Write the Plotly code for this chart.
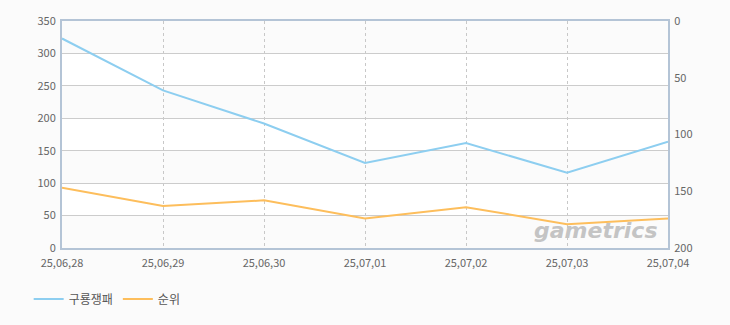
import plotly.graph_objects as go

dates = ["25,06,28", "25,06,29", "25,06,30", "25,07,01", "25,07,02", "25,07,03", "25,07,04"]
game_values = [323, 243, 192, 131, 162, 116, 164]
rank_values = [147, 163, 158, 174, 164, 179, 174]

blue = "rgb(141,206,240)"
orange = "rgb(253,190,92)"
font = "Noto Sans CJK KR, DejaVu Sans, sans-serif"

fig = go.Figure()
fig.add_trace(go.Scatter(x=dates, y=game_values, name="구룡쟁패", mode="lines",
                         line=dict(color=blue, width=2), yaxis="y"))
fig.add_trace(go.Scatter(x=dates, y=rank_values, name="순위", mode="lines",
                         line=dict(color=orange, width=2), yaxis="y2"))

shapes = []
for lo in range(0, 350, 100):
    shapes.append(dict(type="rect", xref="paper", yref="y", x0=0, x1=1, y0=lo, y1=lo + 50,
                       fillcolor="#fbfbfb", line=dict(width=0), layer="below"))

fig.update_layout(
    width=730, height=325,
    margin=dict(l=62, r=62, t=16, b=77),
    paper_bgcolor="#fbfbfb", plot_bgcolor="#ffffff",
    font=dict(family=font, size=11, color="#666666"),
    showlegend=True,
    legend=dict(orientation="h", x=-0.055, y=-0.225, xanchor="left", yanchor="middle",
                font=dict(size=12, color="#555555"), bgcolor="rgba(0,0,0,0)"),
    shapes=shapes,
    xaxis=dict(type="category", range=[0, 6], showgrid=True, griddash="3px,3px",
               gridcolor="#c8c8c8", gridwidth=1, showline=True, linecolor="#b4c4d6",
               linewidth=2, mirror=True, ticks="", zeroline=False, ticklabelstandoff=4,
               tickfont=dict(size=11, color="#666666")),
    yaxis=dict(range=[0, 350], dtick=50, showgrid=True, gridcolor="#cccccc",
               showline=True, linecolor="#b4c4d6", linewidth=2, mirror=True,
               ticks="", zeroline=False, ticklabelstandoff=2,
               tickfont=dict(size=11, color="#666666")),
    yaxis2=dict(range=[200, 0], dtick=50, overlaying="y", side="right", showgrid=False,
                showline=True, linecolor="#b4c4d6", linewidth=2, ticks="", zeroline=False,
                ticklabelstandoff=2, tickfont=dict(size=11, color="#666666")),
    annotations=[dict(text="<b><i>gametrics</i></b>", xref="paper", yref="paper",
                      x=0.985, y=0.075, xanchor="right", yanchor="middle", showarrow=False,
                      font=dict(family="DejaVu Sans, sans-serif", size=22, color="#c4c4c4"))],
)

fig.write_html("out.html")
